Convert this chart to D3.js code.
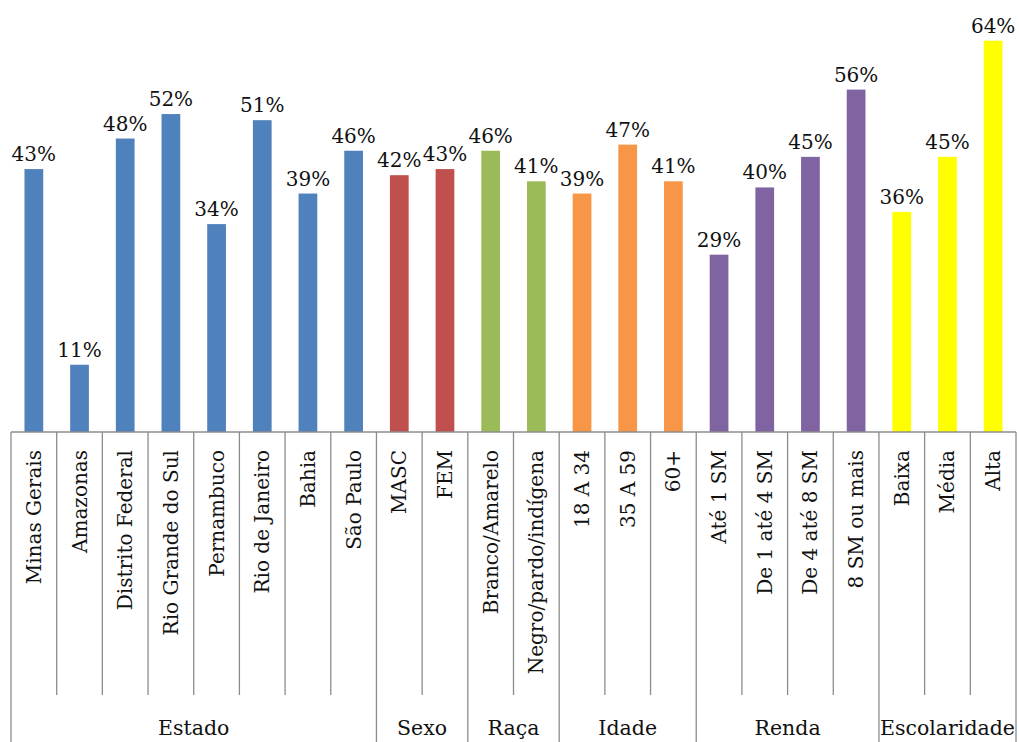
<!DOCTYPE html>
<html>
<head>
<meta charset="utf-8">
<script src="https://cdn.jsdelivr.net/npm/d3@7"></script>
<style>
  html, body { margin: 0; padding: 0; background: #fff; }
  svg { display: block; font-family: "DejaVu Serif", serif; }
</style>
</head>
<body>
<svg id="chart" width="1019" height="742"></svg>
<script>
// Survey shares by demographic group
const groups = ["Estado", "Sexo", "Raça", "Idade", "Renda", "Escolaridade"];
const categories = [
  "Minas Gerais", "Amazonas", "Distrito Federal", "Rio Grande do Sul", "Pernambuco",
  "Rio de Janeiro", "Bahia", "São Paulo",
  "MASC", "FEM",
  "Branco/Amarelo", "Negro/pardo/indígena",
  "18 A 34", "35 A 59", "60+",
  "Até 1 SM", "De 1 até 4 SM", "De 4 até 8 SM", "8 SM ou mais",
  "Baixa", "Média", "Alta"
];
const categoryGroup = [
  "Estado", "Estado", "Estado", "Estado", "Estado", "Estado", "Estado", "Estado",
  "Sexo", "Sexo",
  "Raça", "Raça",
  "Idade", "Idade", "Idade",
  "Renda", "Renda", "Renda", "Renda",
  "Escolaridade", "Escolaridade", "Escolaridade"
];
const values = [43, 11, 48, 52, 34, 51, 39, 46, 42, 43, 46, 41, 39, 47, 41, 29, 40, 45, 56, 36, 45, 64];
const groupColors = ["#4F81BD", "#C0504D", "#9BBB59", "#F79646", "#8064A2", "#FFFF00"];

const svg = d3.select("#chart");
const W = 1019, H = 742;
const left = 11, right = 1016, axisY = 432, innerTickBottom = 695;

const x = d3.scaleBand().domain(categories).range([left, right]).paddingInner(0).paddingOuter(0);
const y = d3.scaleLinear().domain([0, 70]).range([axisY, 4]);
const color = d3.scaleOrdinal().domain(groups).range(groupColors);
const barW = x.bandwidth() * 0.41;

const data = categories.map((c, i) => ({ cat: c, group: categoryGroup[i], value: values[i] }));

// Bars
svg.append("g").selectAll("rect").data(data).join("rect")
  .attr("x", d => x(d.cat) + (x.bandwidth() - barW) / 2)
  .attr("y", d => y(d.value))
  .attr("width", barW)
  .attr("height", d => axisY - y(d.value))
  .attr("fill", d => color(d.group));

// Value labels
svg.append("g").selectAll("text").data(data).join("text")
  .attr("x", d => x(d.cat) + x.bandwidth() / 2)
  .attr("y", d => y(d.value) - 8)
  .attr("text-anchor", "middle")
  .attr("font-size", 20)
  .attr("fill", "#111")
  .text(d => d.value + "%");

// Category axis: baseline and tick dividers
const axis = svg.append("g").attr("stroke", "#8c8c8c").attr("stroke-width", 1.3);
axis.append("line").attr("x1", left).attr("x2", right).attr("y1", axisY).attr("y2", axisY);

// Group extents
const groupSpans = groups.map(g => {
  const idx = categories.map((c, i) => i).filter(i => categoryGroup[i] === g);
  return { group: g, first: categories[idx[0]], last: categories[idx[idx.length - 1]] };
});
const groupStarts = new Set(groupSpans.map(s => s.first));

categories.forEach(c => {
  const gx = x(c);
  axis.append("line")
    .attr("x1", gx).attr("x2", gx)
    .attr("y1", axisY).attr("y2", groupStarts.has(c) ? H : innerTickBottom);
});
axis.append("line").attr("x1", right).attr("x2", right).attr("y1", axisY).attr("y2", H);

// Rotated category labels
svg.append("g").selectAll("text").data(categories).join("text")
  .attr("transform", c => `translate(${x(c) + x.bandwidth() / 2 + 7},450) rotate(-90)`)
  .attr("text-anchor", "end")
  .attr("font-size", 20)
  .attr("fill", "#111")
  .text(c => c);

// Group labels
svg.append("g").selectAll("text").data(groupSpans).join("text")
  .attr("x", s => (x(s.first) + x(s.last) + x.bandwidth()) / 2)
  .attr("y", 735)
  .attr("text-anchor", "middle")
  .attr("font-size", 20.5)
  .attr("fill", "#111")
  .text(s => s.group);
</script>
</body>
</html>
